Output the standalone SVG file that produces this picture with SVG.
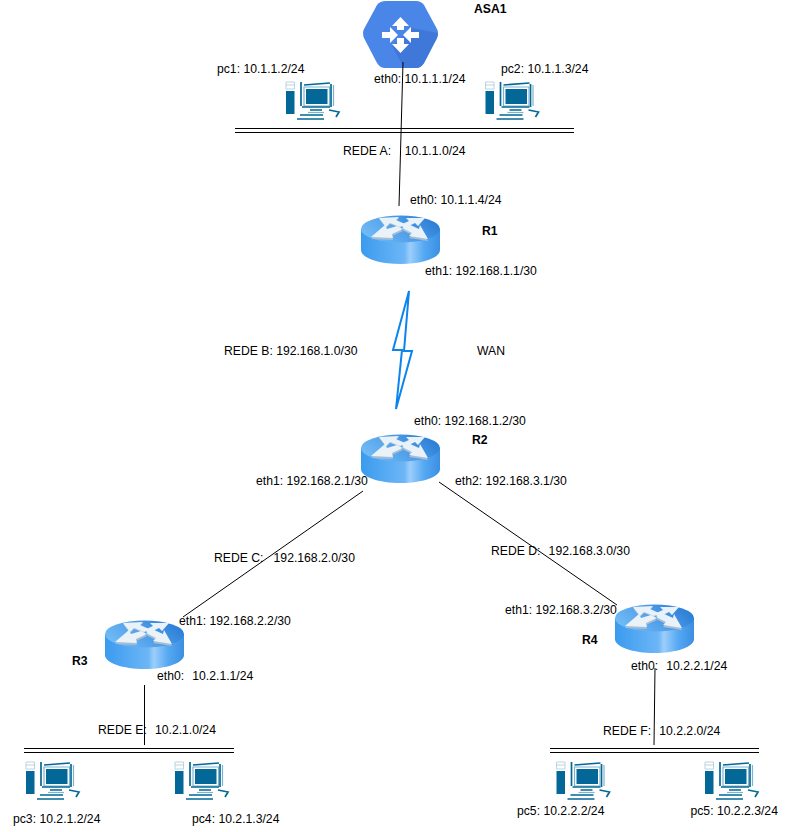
<svg xmlns="http://www.w3.org/2000/svg" width="791" height="832" viewBox="0 0 791 832">
<style>
text{font-family:"Liberation Sans",Arial,sans-serif;font-size:12.2px;fill:#000;white-space:pre}
.b{font-weight:bold}
.l{fill:none;stroke:#000;stroke-width:1}
.bus{fill:none;stroke:#000;stroke-width:1.2}
.pc{fill:#036897}
.pcl{fill:none;stroke:#036897;stroke-width:1.7}
.pcs{fill:none;stroke:#7fb2cd;stroke-width:1.2}
</style>
<defs>
<linearGradient id="side" x1="0" x2="1" y1="0" y2="0"><stop offset="0" stop-color="#3a9bee"/><stop offset=".55" stop-color="#6db6f7"/><stop offset=".62" stop-color="#9ccefb"/><stop offset=".8" stop-color="#55a8f2"/><stop offset="1" stop-color="#3a8fe2"/></linearGradient>
<linearGradient id="top" x1="0" x2="1" y1="0.7" y2="0.3"><stop offset="0" stop-color="#74bdf6"/><stop offset=".55" stop-color="#4c9ce8"/><stop offset="1" stop-color="#2a7cd4"/></linearGradient>
<symbol id="router" overflow="visible">
<path d="M0 14V35C0 43 18 49 39.500 49S79 43 79 35V14Z" fill="url(#side)"/>
<ellipse cx="39.500" cy="14" rx="39.500" ry="13.500" fill="url(#top)"/>
<g fill="#a9bdd2">
<path d="M18 4L38 3L35 6L44 10L39 13L29 9L25 13Z"/>
<path d="M10 24L24 12L26 16L36 13L42 16L31 21L32 25Z"/>
<path d="M67 26L48 23L51 20L41 15L47 11L58 16L59 12Z"/>
</g>
<g fill="#eaf2f9">
<path d="M18 3L38 2L35 5L44 9L39 12L29 8L25 12Z"/>
<path d="M64 3L45 3L48 6L39 10L44 13L54 8L57 11Z"/>
<path d="M10 22L24 10L26 14L36 11L42 14L31 19L32 23Z"/>
<path d="M67 24L48 21L51 18L41 13L47 9L58 14L59 10Z"/>
</g>
</symbol>
<symbol id="pc" overflow="visible">
<path d="M0 0H8.500V7H0ZM0 3H8.500" fill="none" stroke="#a8cadb" stroke-width=".8"/>
<path class="pc" d="M0 9H8.500V32H0Z"/>
<path class="pcl" d="M15 0V24"/>
<path class="pcl" d="M18 3L44 1M45 2V25"/>
<path class="pcs" d="M18 5L43.500 5V24H18ZM47.500 3V24"/>
<path class="pc" d="M20 7H41.500V22H20Z"/>
<path class="pcl" d="M16 25H44M24 28H36"/>
<path class="pcs" d="M22 30.500H38"/>
<path class="pcl" d="M43 28L53 30L50 35M14 33H37M11 37H38"/>
</symbol>
</defs>
<g id="lan-a"><path class="bus" d="M235 128.500H574M235 132.500H574"/></g>
<g id="lan-e"><path class="bus" d="M24 748.500H234M24 752.500H234"/></g>
<g id="lan-f"><path class="bus" d="M550 748.500H759M550 752.500H759"/></g>
<g id="ASA1">
<path d="M386 1H416Q421 1 424 5L437 29Q439 33 437 38L424 63Q421 68 416 68H385Q380 68 377 63L364 38Q362 33 364 29L377 5Q380 1 386 1Z" fill="#4a86e8"/>
<path d="M412 28L438 33L437 38L424 63Q421 68 416 68H404L392 46Z" fill="#3f78d8"/>
<path fill="#fff" d="M400.500 17L409 26H404V30H397V26H392ZM400.500 53L409 44H404V38H397V44H392ZM382 32H390V27L398 35L390 43V38H382ZM419 32H411V27L403 35L411 43V38H419Z"/>
<text class="b" x="474" y="13">ASA1</text>
<text x="374" y="83">eth0: 10.1.1.1/24</text>
</g>
<g id="pc1"><use href="#pc" x="286" y="82"/><text x="217" y="73">pc1: 10.1.1.2/24</text></g>
<g id="pc2"><use href="#pc" x="485.500" y="82"/><text x="501" y="73">pc2: 10.1.1.3/24</text></g>
<g id="R1"><use href="#router" x="361" y="215"/><text class="b" x="482" y="235">R1</text><text x="410" y="204">eth0: 10.1.1.4/24</text><text x="425" y="275">eth1: 192.168.1.1/30</text></g>
<g id="R2"><use href="#router" x="361" y="434"/><text class="b" x="472" y="444">R2</text><text x="414" y="425">eth0: 192.168.1.2/30</text><text x="256" y="485">eth1: 192.168.2.1/30</text><text x="455" y="485">eth2: 192.168.3.1/30</text></g>
<g id="R3"><use href="#router" x="105" y="620"/><text class="b" x="72" y="665">R3</text><text x="179" y="625">eth1: 192.168.2.2/30</text><text x="157" y="680">eth0:  <tspan dx="-2"> 10.2.1.1/24</tspan></text></g>
<g id="R4"><use href="#router" x="615" y="604"/><text class="b" x="582" y="644">R4</text><text x="505" y="614">eth1: 192.168.3.2/30</text><text x="631" y="670">eth0:  <tspan dx="-2"> 10.2.2.1/24</tspan></text></g>
<g id="pc3"><use href="#pc" x="26" y="762"/><text x="13" y="823">pc3: 10.2.1.2/24</text></g>
<g id="pc4"><use href="#pc" x="175" y="762"/><text x="192" y="823">pc4: 10.2.1.3/24</text></g>
<g id="pc5a"><use href="#pc" x="556.500" y="762"/><text x="517" y="815">pc5: 10.2.2.2/24</text></g>
<g id="pc5b"><use href="#pc" x="705" y="762"/><text x="690.500" y="815">pc5: 10.2.2.3/24</text></g>
<g id="labels">
<text x="343" y="155">REDE A:    10.1.1.0/24</text>
<text x="224" y="355">REDE B: 192.168.1.0/30</text>
<text x="477" y="355">WAN</text>
<text x="214" y="562">REDE C:   192.168.2.0/30</text>
<text x="491" y="555">REDE D:  <tspan dx="-2"> 192.168.3.0/30</tspan></text>
<text x="98" y="734">REDE E:  <tspan dx="-2"> 10.2.1.0/24</tspan></text>
<text x="603" y="735">REDE F:  <tspan dx="-2"> 10.2.2.0/24</tspan></text>
</g>
<g id="connectors">
<path class="l" d="M403 62L399 206"/>
<path class="l" d="M363 491L183 617"/>
<path class="l" d="M439 482L617 605"/>
<path class="l" d="M144.500 685V745"/>
<path class="l" d="M655 668L654 745"/>
<path id="wan" d="M409 291L393 350H402L396 409L412 351H404Z" fill="none" stroke="#0b84ee" stroke-width="2"/>
</g>
</svg>
